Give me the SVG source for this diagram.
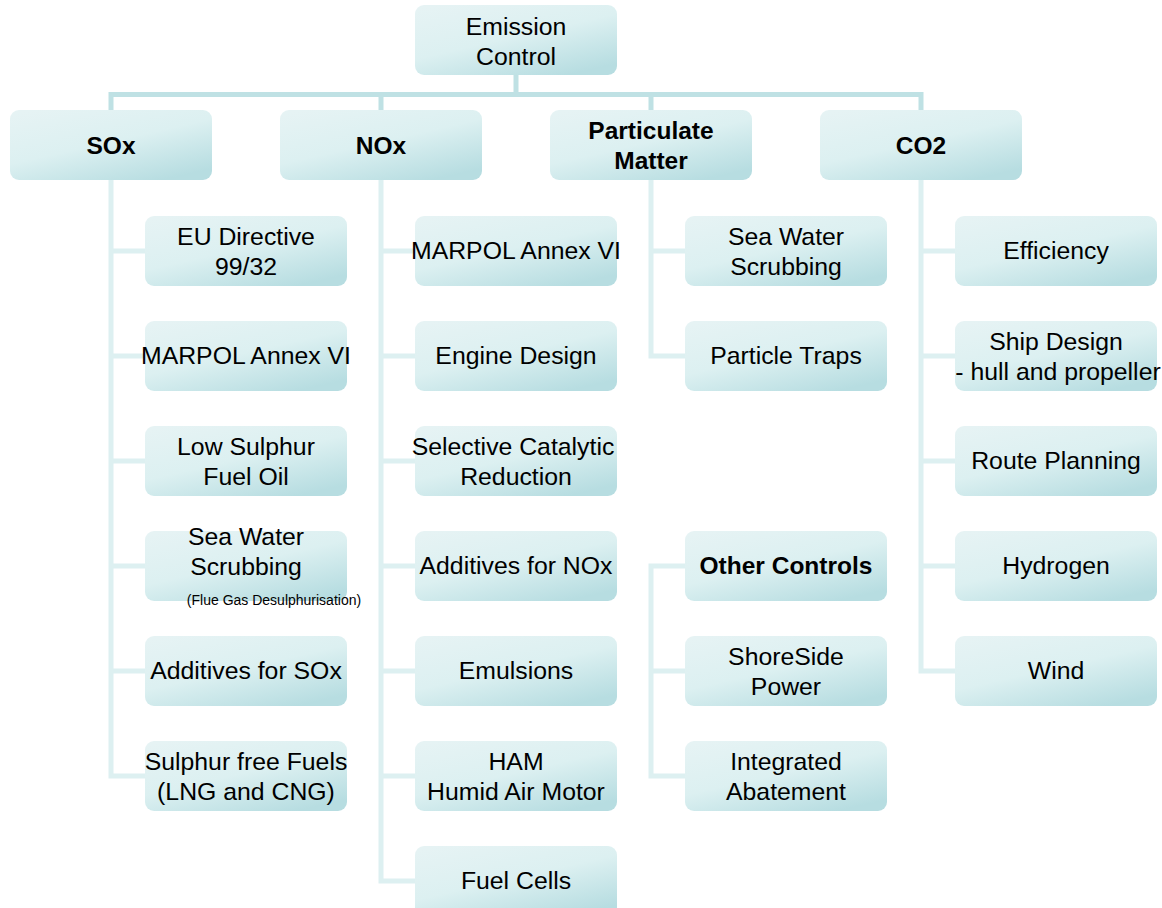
<svg xmlns="http://www.w3.org/2000/svg" width="1162" height="908" viewBox="0 0 1162 908">
<defs>
<linearGradient id="g" x1="0.1" y1="0" x2="0.75" y2="1">
<stop offset="0" stop-color="#e6f3f4"/>
<stop offset="0.5" stop-color="#dcf0f1"/>
<stop offset="1" stop-color="#b7dde1"/>
</linearGradient>
<style>
.b{fill:url(#g);}
.t{font-family:"Liberation Sans",Arial,sans-serif;font-size:24.8px;fill:#000;text-anchor:middle;}
.h{font-weight:bold;font-size:24.5px;}
.s{font-size:14px;}
.c1{fill:none;stroke:#bfe1e4;stroke-width:5;}
.c2{fill:none;stroke:#ddf0f1;stroke-width:5;}
</style>
</defs>
<rect width="1162" height="908" fill="#fff"/>
<g id="connectors">
<path class="c1" d="M516 75V94.5M108.5 94.5H923.5M111 94.5V110M381 94.5V110M651 94.5V110M921 94.5V110"/>
<path class="c2" d="M111 180V776H145M111 251H145M111 356H145M111 461H145M111 566H145M111 671H145"/>
<path class="c2" d="M381 180V881H415M381 251H415M381 356H415M381 461H415M381 566H415M381 671H415M381 776H415"/>
<path class="c2" d="M651 180V356H685M651 251H685"/>
<path class="c2" d="M685 566H651V776H685M651 671H685"/>
<path class="c2" d="M921 180V671H955M921 251H955M921 356H955M921 461H955M921 566H955"/>
</g>
<g id="root"><rect class="b" x="415" y="5" width="202" height="70" rx="9"/><text class="t" x="516" y="35">Emission</text><text class="t" x="516" y="65">Control</text></g>
<g id="sox"><rect class="b" x="10" y="110" width="202" height="70" rx="9"/><text class="t h" x="111" y="154">SOx</text></g>
<g id="nox"><rect class="b" x="280" y="110" width="202" height="70" rx="9"/><text class="t h" x="381" y="154">NOx</text></g>
<g id="pm"><rect class="b" x="550" y="110" width="202" height="70" rx="9"/><text class="t h" x="651" y="139">Particulate</text><text class="t h" x="651" y="169">Matter</text></g>
<g id="co2"><rect class="b" x="820" y="110" width="202" height="70" rx="9"/><text class="t h" x="921" y="154">CO2</text></g>

<g id="sox1"><rect class="b" x="145" y="216" width="202" height="70" rx="9"/><text class="t" x="246" y="245">EU Directive</text><text class="t" x="246" y="275">99/32</text></g>
<g id="sox2"><rect class="b" x="145" y="321" width="202" height="70" rx="9"/><text class="t" x="246" y="364">MARPOL Annex VI</text></g>
<g id="sox3"><rect class="b" x="145" y="426" width="202" height="70" rx="9"/><text class="t" x="246" y="455">Low Sulphur</text><text class="t" x="246" y="485">Fuel Oil</text></g>
<g id="sox4"><rect class="b" x="145" y="531" width="202" height="70" rx="9"/><text class="t" x="246" y="545">Sea Water</text><text class="t" x="246" y="575">Scrubbing</text><text class="t s" x="274" y="605">(Flue Gas Desulphurisation)</text></g>
<g id="sox5"><rect class="b" x="145" y="636" width="202" height="70" rx="9"/><text class="t" x="246" y="679">Additives for SOx</text></g>
<g id="sox6"><rect class="b" x="145" y="741" width="202" height="70" rx="9"/><text class="t" x="246" y="770">Sulphur free Fuels</text><text class="t" x="246" y="800">(LNG and CNG)</text></g>

<g id="nox1"><rect class="b" x="415" y="216" width="202" height="70" rx="9"/><text class="t" x="516" y="259">MARPOL Annex VI</text></g>
<g id="nox2"><rect class="b" x="415" y="321" width="202" height="70" rx="9"/><text class="t" x="516" y="364">Engine Design</text></g>
<g id="nox3"><rect class="b" x="415" y="426" width="202" height="70" rx="9"/><text class="t" x="513" y="455">Selective Catalytic</text><text class="t" x="516" y="485">Reduction</text></g>
<g id="nox4"><rect class="b" x="415" y="531" width="202" height="70" rx="9"/><text class="t" x="516" y="574">Additives for NOx</text></g>
<g id="nox5"><rect class="b" x="415" y="636" width="202" height="70" rx="9"/><text class="t" x="516" y="679">Emulsions</text></g>
<g id="nox6"><rect class="b" x="415" y="741" width="202" height="70" rx="9"/><text class="t" x="516" y="770">HAM</text><text class="t" x="516" y="800">Humid Air Motor</text></g>
<g id="nox7"><rect class="b" x="415" y="846" width="202" height="70" rx="9"/><text class="t" x="516" y="889">Fuel Cells</text></g>

<g id="pm1"><rect class="b" x="685" y="216" width="202" height="70" rx="9"/><text class="t" x="786" y="245">Sea Water</text><text class="t" x="786" y="275">Scrubbing</text></g>
<g id="pm2"><rect class="b" x="685" y="321" width="202" height="70" rx="9"/><text class="t" x="786" y="364">Particle Traps</text></g>
<g id="oc"><rect class="b" x="685" y="531" width="202" height="70" rx="9"/><text class="t h" x="786" y="574">Other Controls</text></g>
<g id="oc1"><rect class="b" x="685" y="636" width="202" height="70" rx="9"/><text class="t" x="786" y="665">ShoreSide</text><text class="t" x="786" y="695">Power</text></g>
<g id="oc2"><rect class="b" x="685" y="741" width="202" height="70" rx="9"/><text class="t" x="786" y="770">Integrated</text><text class="t" x="786" y="800">Abatement</text></g>

<g id="co21"><rect class="b" x="955" y="216" width="202" height="70" rx="9"/><text class="t" x="1056" y="259">Efficiency</text></g>
<g id="co22"><rect class="b" x="955" y="321" width="202" height="70" rx="9"/><text class="t" x="1056" y="350">Ship Design</text><text class="t" x="1058" y="380">- hull and propeller</text></g>
<g id="co23"><rect class="b" x="955" y="426" width="202" height="70" rx="9"/><text class="t" x="1056" y="469">Route Planning</text></g>
<g id="co24"><rect class="b" x="955" y="531" width="202" height="70" rx="9"/><text class="t" x="1056" y="574">Hydrogen</text></g>
<g id="co25"><rect class="b" x="955" y="636" width="202" height="70" rx="9"/><text class="t" x="1056" y="679">Wind</text></g>
</svg>
